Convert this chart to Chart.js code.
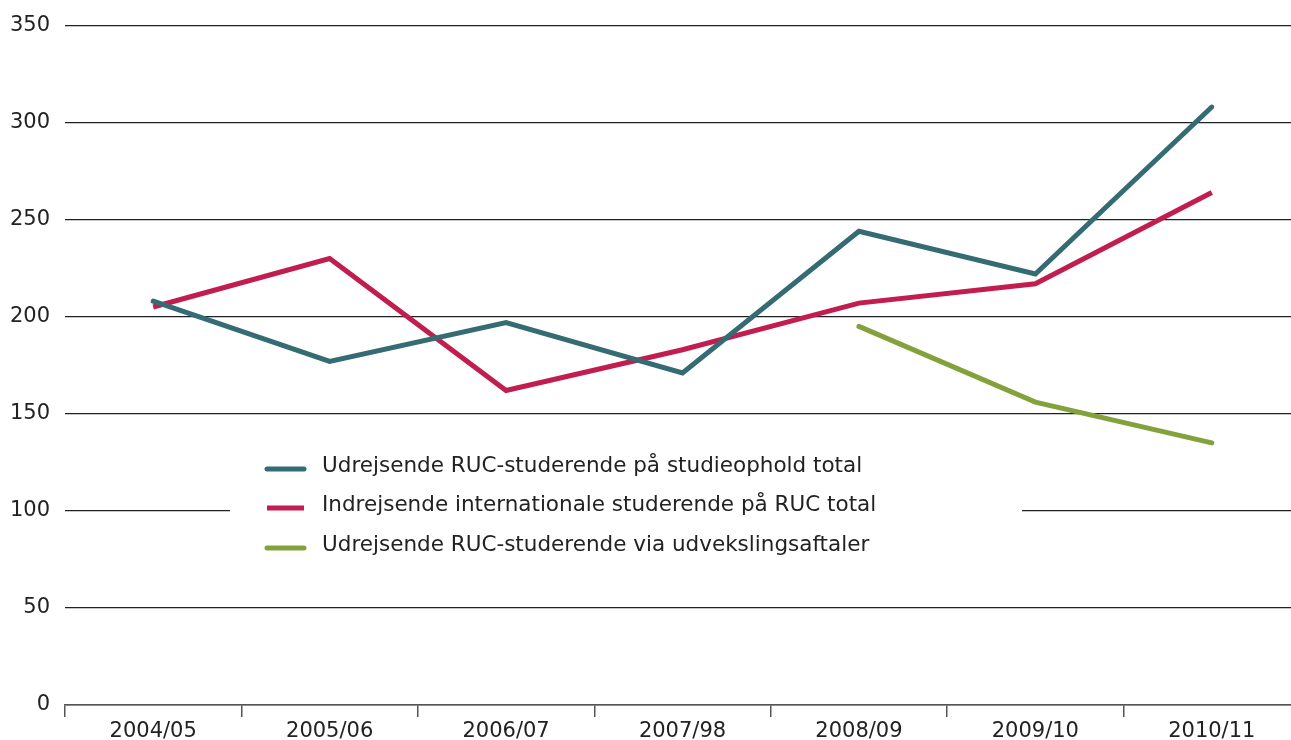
<!DOCTYPE html>
<html>
<head>
<meta charset="utf-8">
<script src="https://cdn.jsdelivr.net/npm/chart.js@4"></script>
<style>
  html, body { margin: 0; padding: 0; background: #fff; overflow: hidden; }
  #wrap { width: 1300px; height: 740px; }
</style>
</head>
<body>
<div id="wrap"><canvas id="chart" width="1300" height="740"></canvas></div>
<script>
// data
const YEARS = ['2004/05', '2005/06', '2006/07', '2007/98', '2008/09', '2009/10', '2010/11'];
const UDREJSENDE_TOTAL = [208, 177, 197, 171, 244, 222, 308];
const INDREJSENDE_TOTAL = [205, 230, 162, 183, 207, 217, 264];
const UDREJSENDE_AFTALER = [null, null, null, null, 195, 156, 135];

const LABELS = [
  'Udrejsende RUC-studerende på studieophold total',
  'Indrejsende internationale studerende på RUC total',
  'Udrejsende RUC-studerende via udvekslingsaftaler'
];
const COLORS = ['#356b73', '#c11d4e', '#84a23c'];
const CAPS = ['round', 'butt', 'round'];

const FONT = 'DejaVu Sans, Verdana, sans-serif';

// legend drawn inside the plot, on a white box that cuts the 100 gridline
const boxLegend = {
  id: 'boxLegend',
  afterDraw(chart) {
    const ctx = chart.ctx;
    ctx.save();
    ctx.fillStyle = '#fff';
    ctx.fillRect(230, 445, 792, 120);
    const rows = [469, 508, 548];
    chart.data.datasets.forEach((ds, i) => {
      ctx.strokeStyle = ds.borderColor;
      ctx.lineWidth = 5;
      ctx.lineCap = CAPS[i];
      ctx.beginPath();
      ctx.moveTo(267, rows[i]);
      ctx.lineTo(304, rows[i]);
      ctx.stroke();
      ctx.fillStyle = '#222';
      ctx.font = '21.5px ' + FONT;
      ctx.textBaseline = 'middle';
      ctx.textAlign = 'left';
      ctx.fillText(ds.label, 322, rows[i] - 3);
    });
    ctx.restore();
  }
};

new Chart(document.getElementById('chart'), {
  type: 'line',
  data: {
    labels: YEARS,
    datasets: [
      { label: LABELS[0], data: UDREJSENDE_TOTAL },
      { label: LABELS[1], data: INDREJSENDE_TOTAL },
      { label: LABELS[2], data: UDREJSENDE_AFTALER }
    ].map((d, i) => ({
      ...d,
      borderColor: COLORS[i],
      backgroundColor: COLORS[i],
      borderWidth: 5,
      borderCapStyle: CAPS[i],
      borderJoinStyle: 'miter',
      pointRadius: 0,
      tension: 0,
      spanGaps: false
    }))
  },
  options: {
    responsive: false,
    animation: false,
    layout: { padding: { top: 11, right: 0, left: 0, bottom: 0 } },
    plugins: { legend: { display: false }, tooltip: { enabled: false } },
    scales: {
      x: {
        offset: true,
        afterFit(scale) { scale.height = 35; },
        grid: { offset: true, drawOnChartArea: false, tickLength: 12, color: '#555', lineWidth: 1.5 },
        border: { display: true, color: '#555', width: 1.5 },
        ticks: { color: '#222', font: { family: FONT, size: 21 }, padding: 2, maxRotation: 0 }
      },
      y: {
        min: 0,
        max: 350,
        afterFit(scale) { scale.width = 65; },
        grid: { color: '#222', lineWidth: 1.2, drawTicks: false },
        border: { display: false },
        ticks: { stepSize: 50, color: '#222', font: { family: FONT, size: 21, lineHeight: 1.0 }, padding: 15 }
      }
    }
  },
  plugins: [boxLegend]
});
</script>
</body>
</html>
